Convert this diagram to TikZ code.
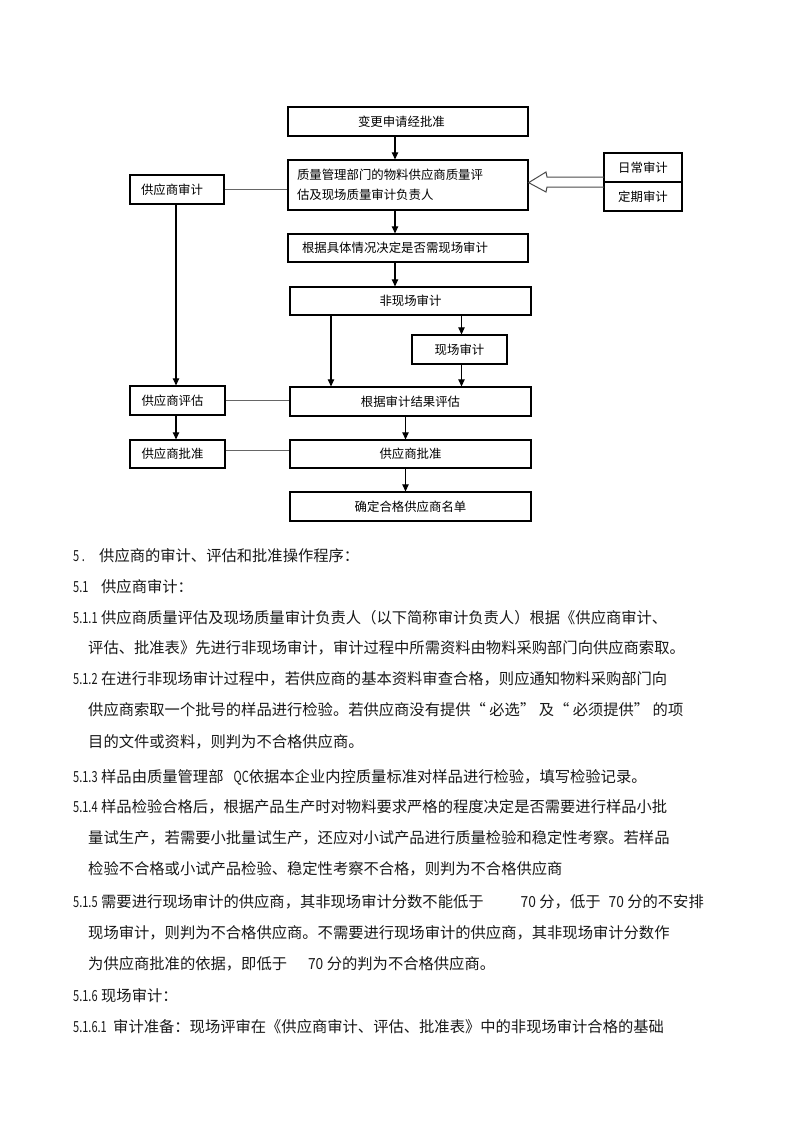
\documentclass[tikz,border=0pt]{standalone}
\usepackage{fontspec}
\usepackage{graphicx}
\setmainfont{Noto Sans CJK SC}
\usetikzlibrary{arrows.meta}
\newcommand\nm[1]{\scalebox{0.72}[1]{#1}}
\newcommand\nn[1]{\scalebox{0.9}[1]{#1}}
\newcommand\lead[2]{\makebox[#1][l]{#2}}
\begin{document}
\begin{tikzpicture}[x=1pt,y=-1pt,
  box/.style={draw=black,line width=1.3pt,inner sep=0pt,font=\fontsize{12.4}{20}\selectfont},
  arr/.style={line width=1.1pt,-{Triangle[length=7pt,width=6.5pt]}},
  ln/.style={line width=1pt,draw=black!60},
  hollow/.style={line width=1pt,draw=black!70},
  body/.style={anchor=west,inner sep=0pt,font=\fontsize{15.3}{18}\selectfont,text height=13.4pt,text depth=1.9pt,text=black!90}]
\useasboundingbox[fill=white] (0,0) rectangle (800,1133);

% main column
\node[box,minimum width=240pt,minimum height=29pt,text width=100pt,align=left] (n1) at (408,121.5) {变更申请经批准};
\node[box,minimum width=240pt,minimum height=50pt,text width=222pt,align=left] (n2) at (408,185) {质量管理部门的物料供应商质量评\\估及现场质量审计负责人};
\node[box,minimum width=240pt,minimum height=28pt,text width=212pt,align=left] (n3) at (408,248) {根据具体情况决定是否需现场审计};
\node[box,minimum width=78pt,minimum height=29pt] (r1) at (643,167.5) {日常审计};
\node[box,minimum width=78pt,minimum height=29pt] (r2) at (643,196.5) {定期审计};
\node[box,minimum width=94pt,minimum height=29pt,text width=72pt,align=left] (sa) at (177,189.5) {供应商审计};
\node[box,minimum width=241pt,minimum height=28pt] (fx) at (410.5,301) {非现场审计};
\node[box,minimum width=95pt,minimum height=29pt] (xc) at (459.5,349.5) {现场审计};
\node[box,minimum width=241pt,minimum height=29pt] (pg) at (410.5,401.5) {根据审计结果评估};
\node[box,minimum width=241pt,minimum height=28pt] (pz) at (410.5,454) {供应商批准};
\node[box,minimum width=241pt,minimum height=29pt] (qd) at (410.5,506.5) {确定合格供应商名单};
\node[box,minimum width=95pt,minimum height=29pt,text width=72pt,align=left] (lp) at (177.5,400.5) {供应商评估};
\node[box,minimum width=95pt,minimum height=28pt,text width=72pt,align=left] (lz) at (177.5,454) {供应商批准};

% arrows
\draw[arr] ([xshift=-13pt]n1.south) -- ([xshift=-13pt]n2.north);
\draw[arr] ([xshift=-13pt]n2.south) -- ([xshift=-13pt]n3.north);
\draw[arr] ([xshift=-13pt]n3.south) -- ([xshift=-13pt]n3.south |- fx.north);
\draw[arr] ([xshift=2pt]xc.north |- fx.south) -- ([xshift=2pt]xc.north);
\draw[arr] ([xshift=-79.5pt]fx.south) -- ([xshift=-79.5pt]fx.south |- pg.north);
\draw[arr] ([xshift=2pt]xc.south) -- ([xshift=2pt]xc.south |- pg.north);
\draw[arr] ([xshift=-5pt]pg.south) -- ([xshift=-5pt]pz.north);
\draw[arr] ([xshift=-5pt]pz.south) -- ([xshift=-5pt]qd.north);
\draw[arr] ([xshift=-1pt]sa.south) -- ([xshift=-1pt]sa.south |- lp.north);
\draw[arr] ([xshift=-1.5pt]lp.south) -- ([xshift=-1.5pt]lz.north);

% plain lines
\draw[ln] ([yshift=0.5pt]sa.east) -- ([yshift=0.5pt]sa.east -| n2.west);
\draw[ln] ([yshift=0.5pt]lp.east) -- ([yshift=0.5pt]lp.east -| pg.west);
\draw[ln] ([yshift=4pt]lz.east) -- ([yshift=4pt]lz.east -| pz.west);

% hollow arrow
\coordinate (hs) at (r1.south west);
\draw[hollow] (604,177) -- (547,177) -- (546,172) -- (hs -| n2.east) -- (546,192) -- (547,187) -- (604,187);

% body text
\node[body] (t1) at (73,556) {\lead{26pt}{\nm{5 .}}供应商的审计、评估和批准操作程序：};
\node[body] (t2) at (73,587) {\lead{28pt}{\nm{5.1}}供应商审计：};
\node[body] (t3) at (73,618) {\lead{28pt}{\nm{5.1.1}}供应商质量评估及现场质量审计负责人（以下简称审计负责人）根据《供应商审计、};
\node[body] (t4) at (88,648) {评估、批准表》先进行非现场审计，审计过程中所需资料由物料采购部门向供应商索取。};
\node[body] (t5) at (73,679) {\lead{28pt}{\nm{5.1.2}}在进行非现场审计过程中，若供应商的基本资料审查合格，则应通知物料采购部门向};
\node[body] (t6) at (88,710) {供应商索取一个批号的样品进行检验。若供应商没有提供“ 必选” 及“ 必须提供” 的项};
\node[body] (t7) at (88,742) {目的文件或资料，则判为不合格供应商。};
\node[body] (t8) at (73,777) {\lead{28pt}{\nm{5.1.3}}样品由质量管理部\hspace{10pt}\nm{QC}依据本企业内控质量标准对样品进行检验，填写检验记录。};
\node[body] (t9) at (73,807) {\lead{28pt}{\nm{5.1.4}}样品检验合格后，根据产品生产时对物料要求严格的程度决定是否需要进行样品小批};
\node[body] (t10) at (88,838) {量试生产，若需要小批量试生产，还应对小试产品进行质量检验和稳定性考察。若样品};
\node[body] (t11) at (88,869) {检验不合格或小试产品检验、稳定性考察不合格，则判为不合格供应商};
\node[body] (t12) at (73,902) {\lead{28pt}{\nm{5.1.5}}需要进行现场审计的供应商，其非现场审计分数不能低于\hspace{37pt}\nn{70} 分，低于\hspace{8pt}\nn{70} 分的不安排};
\node[body] (t13) at (88,933) {现场审计，则判为不合格供应商。不需要进行现场审计的供应商，其非现场审计分数作};
\node[body] (t14) at (88,964) {为供应商批准的依据，即低于\hspace{21pt}\nn{70} 分的判为不合格供应商。};
\node[body] (t15) at (73,996) {\lead{28pt}{\nm{5.1.6}}现场审计：};
\node[body] (t16) at (73,1027) {\lead{40pt}{\nm{5.1.6.1}}审计准备：现场评审在《供应商审计、评估、批准表》中的非现场审计合格的基础};
\end{tikzpicture}
\end{document}
